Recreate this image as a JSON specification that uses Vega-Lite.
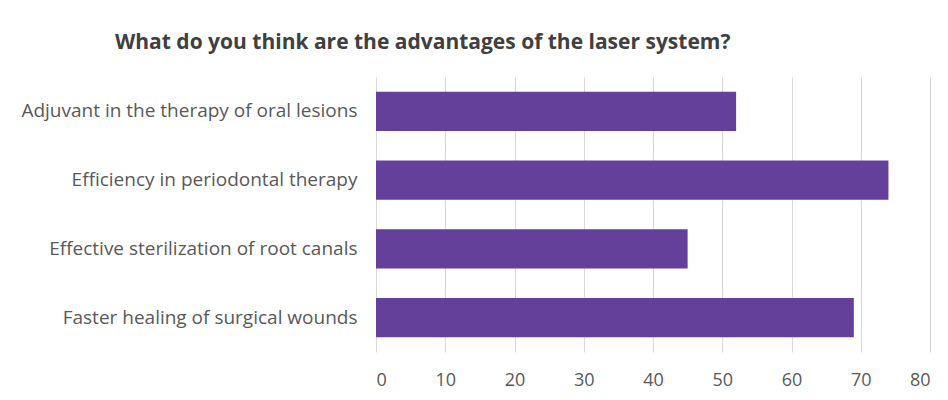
{
  "$schema": "https://vega.github.io/schema/vega-lite/v6.json",
  "autosize": "none",
  "width": 554,
  "height": 275,
  "padding": {"left": 376, "top": 77, "right": 18, "bottom": 48},
  "background": "white",
  "title": {
    "text": "What do you think are the advantages of the laser system?",
    "anchor": "start",
    "frame": "group",
    "dx": -261,
    "offset": 24,
    "font": "Open Sans",
    "fontSize": 21,
    "fontWeight": "bold",
    "color": "#404040"
  },
  "data": {
    "values": [
      {"advantage": "Adjuvant in the therapy of oral lesions", "value": 52},
      {"advantage": "Efficiency in periodontal therapy", "value": 74},
      {"advantage": "Effective sterilization of root canals", "value": 45},
      {"advantage": "Faster healing of surgical wounds", "value": 69}
    ]
  },
  "mark": {"type": "bar", "color": "#65409a"},
  "encoding": {
    "y": {
      "field": "advantage",
      "type": "nominal",
      "sort": null,
      "scale": {"paddingInner": 0.43, "paddingOuter": 0.215},
      "axis": {
        "title": null,
        "ticks": false,
        "domain": false,
        "labelFont": "Open Sans",
        "labelFontSize": 19,
        "labelColor": "#595959",
        "labelPadding": 19,
        "labelLimit": 400
      }
    },
    "x": {
      "field": "value",
      "type": "quantitative",
      "scale": {"domain": [0, 80], "nice": false},
      "axis": {
        "title": null,
        "values": [0, 10, 20, 30, 40, 50, 60, 70, 80],
        "ticks": false,
        "domain": false,
        "grid": true,
        "gridColor": "#d9d9d9",
        "labelFont": "Open Sans",
        "labelFontSize": 18,
        "labelColor": "#595959",
        "labelPadding": 19
      }
    }
  },
  "config": {"view": {"stroke": null}}
}
